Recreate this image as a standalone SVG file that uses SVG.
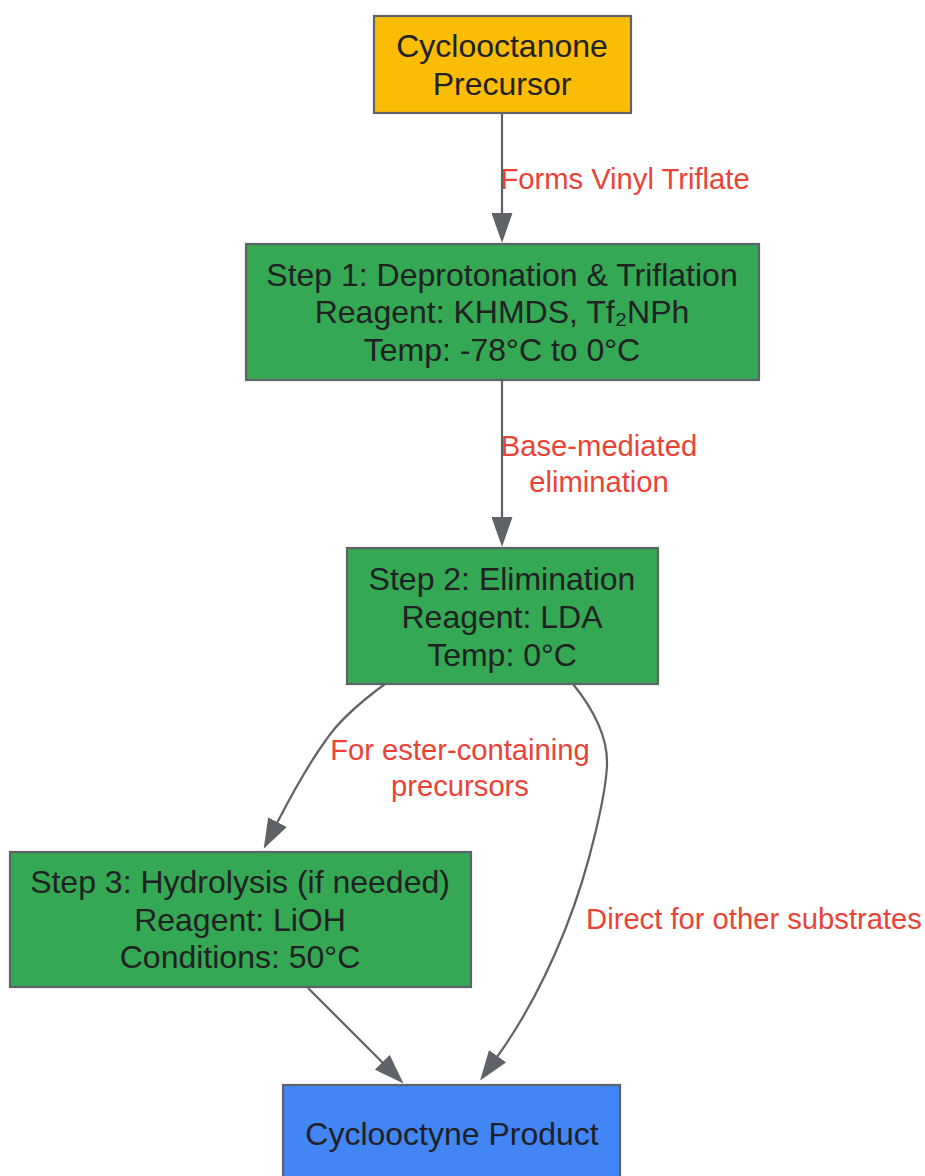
<svg xmlns="http://www.w3.org/2000/svg" width="925" height="1176" viewBox="0 0 925 1176">
<style>
.node rect{stroke:#5f6368;stroke-width:2.2}
.nt{font-family:"Liberation Sans",Arial,sans-serif;font-size:32px;fill:#202124;text-anchor:middle}
.el{font-family:"Liberation Sans",Arial,sans-serif;font-size:29.2px;fill:#EA4335;text-anchor:middle}
.edge{fill:none;stroke:#5f6368;stroke-width:2.2}
</style>
<defs>
<marker id="arr" viewBox="0 0 30 21" refX="1" refY="10.5" markerWidth="30" markerHeight="21" markerUnits="userSpaceOnUse" orient="auto">
<path d="M0,0 L30,10.5 L0,21 z" fill="#5f6368"/>
</marker>
</defs>
<rect width="925" height="1176" fill="#ffffff"/>
<g id="connectors">
<path class="edge" d="M502,113 L502,214" marker-end="url(#arr)"/>
<path class="edge" d="M502,380 L502,518" marker-end="url(#arr)"/>
<path class="edge" d="M385,684 C355,706 338,722 326,740 C310,762 293,792 277,823" marker-end="url(#arr)"/>
<path class="edge" d="M573,684 C590,705 608,735 607,765 C606,790 592,862 565,930 C545,980 520,1025 497,1057" marker-end="url(#arr)"/>
<path class="edge" d="M308,988 L383,1063" marker-end="url(#arr)"/>
<text class="el" x="625" y="189">Forms Vinyl Triflate</text>
<text class="el" x="599" y="456">Base-mediated</text>
<text class="el" x="599" y="492">elimination</text>
<text class="el" x="460" y="760">For ester-containing</text>
<text class="el" x="460" y="796">precursors</text>
<text class="el" x="754" y="929">Direct for other substrates</text>
</g>
<g id="precursor" class="node">
<rect x="374" y="16" width="257" height="97" fill="#FBBC04"/>
<text class="nt" x="502" y="57">Cyclooctanone</text>
<text class="nt" x="502" y="95">Precursor</text>
</g>
<g id="step1" class="node">
<rect x="246" y="244" width="513" height="136" fill="#34A853"/>
<text class="nt" x="502" y="286">Step 1: Deprotonation &amp; Triflation</text>
<text class="nt" x="502" y="323">Reagent: KHMDS, Tf₂NPh</text>
<text class="nt" x="502" y="361">Temp: -78°C to 0°C</text>
</g>
<g id="step2" class="node">
<rect x="347" y="548" width="311" height="136" fill="#34A853"/>
<text class="nt" x="502" y="590">Step 2: Elimination</text>
<text class="nt" x="502" y="628">Reagent: LDA</text>
<text class="nt" x="502" y="666">Temp: 0°C</text>
</g>
<g id="step3" class="node">
<rect x="10" y="852" width="461" height="135" fill="#34A853"/>
<text class="nt" x="240" y="893">Step 3: Hydrolysis (if needed)</text>
<text class="nt" x="240" y="931">Reagent: LiOH</text>
<text class="nt" x="240" y="968">Conditions: 50°C</text>
</g>
<g id="product" class="node">
<rect x="283" y="1085" width="337" height="100" fill="#4285F4"/>
<text class="nt" x="452" y="1145">Cyclooctyne Product</text>
</g>
</svg>
